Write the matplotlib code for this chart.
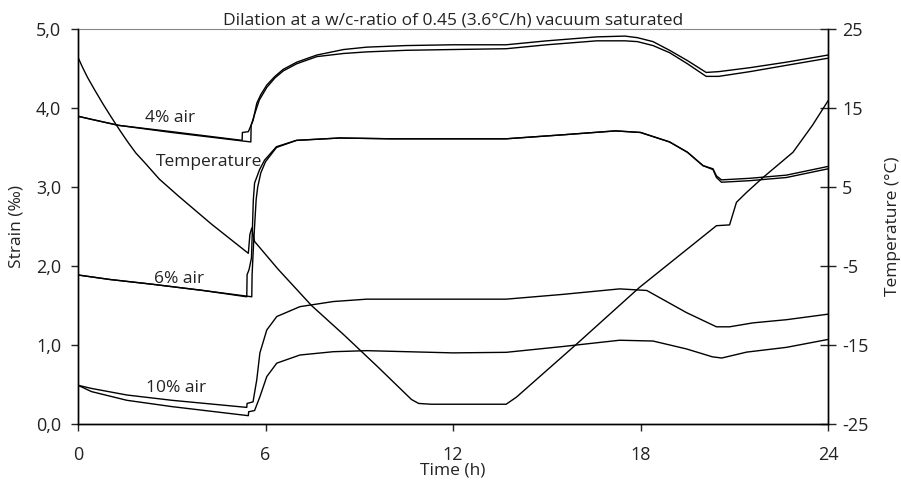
import matplotlib
matplotlib.use("Agg")
import matplotlib.pyplot as plt
from matplotlib.ticker import FuncFormatter

plt.rcParams['font.family'] = ['Open Sans', 'DejaVu Sans']

# 4% air, two specimens (strain, per mille)
air4_a_t = [0, 0.5, 1.3, 3.0, 5.25, 5.26, 5.45, 5.6, 5.72, 5.85, 6.04, 6.3, 6.57, 7.0, 7.64, 8.5, 9.24,
            10.5, 12.0, 13.7, 15.0, 16.6, 17.5, 17.9, 18.4, 18.93, 19.5, 20.1, 20.5, 21.5, 22.67, 24.0]
air4_a = [3.895, 3.85, 3.78, 3.70, 3.59, 3.69, 3.70, 3.84, 4.06, 4.17, 4.29, 4.40, 4.49, 4.58, 4.67, 4.74, 4.77,
          4.79, 4.80, 4.80, 4.85, 4.90, 4.91, 4.89, 4.84, 4.73, 4.60, 4.45, 4.46, 4.51, 4.58, 4.67]
air4_b_t = [0, 0.5, 1.3, 3.0, 5.53, 5.54, 5.65, 5.8, 6.04, 6.3, 6.57, 7.0, 7.64, 8.5, 9.24,
            10.5, 12.0, 13.7, 15.0, 16.6, 17.5, 17.9, 18.4, 18.93, 19.5, 20.1, 20.5, 21.5, 22.67, 24.0]
air4_b = [3.895, 3.85, 3.78, 3.69, 3.57, 3.78, 3.92, 4.10, 4.26, 4.38, 4.47, 4.56, 4.65, 4.69, 4.71,
          4.73, 4.74, 4.75, 4.80, 4.85, 4.85, 4.84, 4.79, 4.70, 4.56, 4.40, 4.40, 4.46, 4.54, 4.63]

# 6% air
air6_a_t = [0, 1.0, 2.35, 4.0, 5.4, 5.41, 5.47, 5.55, 5.61, 5.65, 5.81, 5.97, 6.35, 6.99, 8.37, 10.0, 12.0,
            13.7, 15.5, 17.2, 18.0, 18.93, 19.5, 20.0, 20.32, 20.43, 20.59, 21.5, 22.67, 24.0]
air6_a = [1.886, 1.83, 1.77, 1.69, 1.61, 1.89, 1.95, 2.10, 2.84, 3.05, 3.22, 3.34, 3.51, 3.59, 3.62, 3.61, 3.61,
          3.61, 3.66, 3.71, 3.69, 3.57, 3.44, 3.27, 3.23, 3.14, 3.09, 3.11, 3.15, 3.26]
air6_b_t = [0, 1.0, 2.35, 4.0, 5.56, 5.57, 5.62, 5.70, 5.75, 5.85, 6.0, 6.35, 6.99, 8.37, 10.0, 12.0,
            13.7, 15.5, 17.2, 18.0, 18.93, 19.5, 20.0, 20.32, 20.43, 20.59, 21.5, 22.67, 24.0]
air6_b = [1.886, 1.83, 1.77, 1.69, 1.61, 1.89, 2.30, 2.84, 3.00, 3.18, 3.32, 3.50, 3.59, 3.62, 3.61, 3.61,
          3.61, 3.66, 3.71, 3.69, 3.57, 3.44, 3.27, 3.22, 3.12, 3.06, 3.08, 3.12, 3.23]

# 10% air
air10_a_t = [0, 0.43, 1.56, 3.0, 5.4, 5.41, 5.6, 5.72, 5.82, 6.04, 6.36, 7.1, 8.17, 9.24, 12.0, 13.7,
             15.5, 17.33, 18.2, 19.47, 20.43, 20.85, 21.6, 22.67, 24.0]
air10_a = [0.49, 0.45, 0.367, 0.30, 0.21, 0.26, 0.28, 0.56, 0.90, 1.19, 1.36, 1.485, 1.55, 1.58, 1.58, 1.58,
           1.64, 1.71, 1.69, 1.41, 1.23, 1.23, 1.28, 1.32, 1.39]
air10_b_t = [0, 0.43, 1.56, 3.0, 5.45, 5.46, 5.65, 5.82, 6.04, 6.36, 7.1, 8.17, 9.24, 12.0, 13.7,
             15.5, 17.33, 18.4, 19.47, 20.3, 20.6, 21.4, 22.67, 24.0]
air10_b = [0.49, 0.41, 0.30, 0.22, 0.105, 0.155, 0.17, 0.345, 0.60, 0.77, 0.873, 0.915, 0.928, 0.90, 0.907,
           0.98, 1.06, 1.05, 0.95, 0.85, 0.835, 0.91, 0.97, 1.07]

# temperature (deg C)
temp_t = [0, 0.15, 0.3, 0.53, 0.8, 1.07, 1.35, 1.6, 1.85, 2.13, 2.6, 3.2, 4.27, 5.45, 5.5, 5.56, 5.65, 6.4,
          7.47, 8.53, 9.6, 10.67, 10.9, 11.3, 13.7, 14.03, 15.95, 17.97, 20.43, 20.85, 21.07, 21.39, 21.92,
          22.88, 23.5, 24.0]
temp = [21.4, 20.1, 18.9, 17.3, 15.5, 13.8, 12.1, 10.65, 9.3, 8.1, 6.0, 3.9, 0.3, -3.4, -1.0, -0.2, -1.9, -5.4,
        -10.0, -13.8, -17.8, -21.9, -22.4, -22.5, -22.5, -21.6, -14.9, -7.7, 0.1, 0.2, 3.06, 4.3, 6.2,
        9.4, 12.8, 15.9]

fig = plt.figure(figsize=(9.01, 4.87), dpi=100)
ax = fig.add_axes([0.0866, 0.1294, 0.8324, 0.8111])
ax2 = ax.twinx()

lw = 1.0
for t, v in [(air4_a_t, air4_a), (air4_b_t, air4_b), (air6_a_t, air6_a), (air6_b_t, air6_b),
             (air10_a_t, air10_a), (air10_b_t, air10_b)]:
    ax.plot(t, v, color='black', lw=lw)
ax2.plot(temp_t, temp, color='black', lw=lw)

ax.set_xlim(0, 24)
ax.set_ylim(0, 5)
ax2.set_ylim(-25, 25)
ax.set_xticks([0, 6, 12, 18, 24])
ax.set_yticks([0, 1, 2, 3, 4, 5])
ax2.set_yticks([-25, -15, -5, 5, 15, 25])
ax2.set_yticklabels(['-25', '-15', '-5', '5', '15', '25'])
ax.yaxis.set_major_formatter(FuncFormatter(lambda v, p: ('%.1f' % v).replace('.', ',')))

ax.tick_params(axis='both', direction='out', length=5, width=1, labelsize=13, colors='#222222', pad=7)
ax.tick_params(axis='x', pad=11)
ax2.tick_params(axis='y', direction='inout', length=12, width=1, labelsize=13, colors='#222222', pad=4)

for a in (ax, ax2):
    for s in ('left', 'bottom', 'right'):
        a.spines[s].set_linewidth(1.0)
ax.spines['top'].set_color('#888888')
ax.spines['top'].set_linewidth(0.8)
ax2.spines['top'].set_visible(False)

ax.set_title('Dilation at a w/c-ratio of 0.45 (3.6°C/h) vacuum saturated', fontsize=12.5, pad=2,
             color='#222222')
ax.set_xlabel('Time (h)', fontsize=12.5, labelpad=-1, color='#222222')
ax.set_ylabel('Strain (‰)', fontsize=12.5, labelpad=8, color='#222222')
ax2.set_ylabel('Temperature (°C)', fontsize=12.5, labelpad=12, color='#222222')

ax.text(2.96, 3.87, '4% air', fontsize=12.5, ha='center', va='center', color='#222222')
ax.text(4.2, 3.32, 'Temperature', fontsize=12.5, ha='center', va='center', color='#222222')
ax.text(3.22, 1.83, '6% air', fontsize=12.5, ha='center', va='center', color='#222222')
ax.text(3.15, 0.45, '10% air', fontsize=12.5, ha='center', va='center', color='#222222')

fig.savefig('out.png', dpi=100)
